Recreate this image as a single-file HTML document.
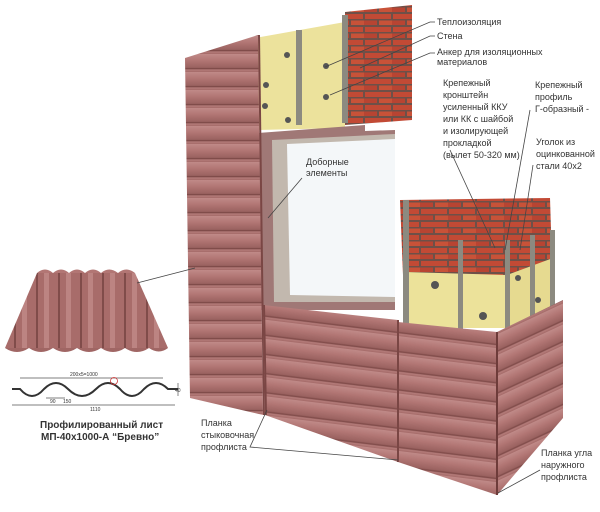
<!DOCTYPE html>
<html><head><meta charset="utf-8"><style>
html,body{margin:0;padding:0;background:#fff;}
svg{display:block;}
text{font-family:"Liberation Sans",sans-serif;fill:#333;}
</style></head><body>
<svg width="600" height="512" viewBox="0 0 600 512" xmlns="http://www.w3.org/2000/svg">
<defs>
<linearGradient id="lg" x1="0" y1="0" x2="0" y2="1">
<stop offset="0" stop-color="#c08a88"/><stop offset="0.35" stop-color="#b27674"/><stop offset="0.75" stop-color="#9a6260"/><stop offset="0.82" stop-color="#7a4644"/><stop offset="0.88" stop-color="#b47c7a"/><stop offset="1" stop-color="#a46a68"/>
</linearGradient>
<pattern id="sid" width="40" height="18" patternUnits="userSpaceOnUse">
<rect width="40" height="18" fill="url(#lg)"/>
</pattern>
<pattern id="sid2" width="40" height="19" patternUnits="userSpaceOnUse" patternTransform="rotate(7)">
<rect width="40" height="19" fill="url(#lg)"/>
</pattern>
<pattern id="sid3" width="40" height="19" patternUnits="userSpaceOnUse" patternTransform="rotate(-25)">
<rect width="40" height="19" fill="url(#lg)"/>
</pattern>
<pattern id="brick" width="28" height="13" patternUnits="userSpaceOnUse">
<rect width="28" height="13" fill="#6e5048"/>
<rect x="1" y="1" width="26" height="5" fill="#c24a35"/>
<rect x="-13" y="7.5" width="26" height="4.5" fill="#b84432"/>
<rect x="15" y="7.5" width="26" height="4.5" fill="#c85238"/>
</pattern>
<pattern id="sheet" width="22" height="10" patternUnits="userSpaceOnUse">
<rect width="22" height="10" fill="#a86c6a"/>
<rect x="0" width="5" height="10" fill="#bc8482"/>
<rect x="14" width="2" height="10" fill="#804c4a"/>
</pattern>
</defs>

<polygon points="345,12 412,5 412,120 345,125" fill="url(#brick)"/>
<polygon points="255,38 345,22 345,128 258,130" fill="#ece29c"/>
<rect x="296" y="30" width="6" height="95" fill="#8c8a80"/>
<rect x="342" y="15" width="6" height="108" fill="#8c8a80"/>
<g fill="#555">
<circle cx="266" cy="85" r="3"/><circle cx="265" cy="106" r="3"/><circle cx="287" cy="55" r="3"/><circle cx="326" cy="66" r="3"/><circle cx="326" cy="97" r="3"/><circle cx="288" cy="120" r="3"/></g>

<polygon points="258,133 365,125 365,131 395,130 395,310 258,310" fill="#a07876"/>
<polygon points="272,140 395,134 395,302 274,302" fill="#c2b8ae"/>
<polygon points="287,144 395,139 395,297 290,295" fill="#f4f7f9"/>

<polygon points="185,58 258,35 263,415 190,398" fill="url(#sid)"/>
<line x1="259" y1="35" x2="264" y2="415" stroke="#7a4644" stroke-width="2"/>

<polygon points="400,200 550,198 552,262 507,275 403,275" fill="url(#brick)"/>
<polygon points="405,272 507,275 507,328 407,328" fill="#ece29a"/>
<polygon points="507,275 553,258 555,310 507,330" fill="#e6da90"/>
<g fill="#8c8a80"><rect x="403" y="200" width="6" height="130"/><rect x="458" y="240" width="5" height="90"/><rect x="505" y="240" width="5" height="92"/><rect x="530" y="235" width="5" height="85"/><rect x="550" y="230" width="5" height="80"/></g>
<g fill="#555"><circle cx="435" cy="285" r="4"/><circle cx="483" cy="316" r="4"/><circle cx="518" cy="278" r="3"/><circle cx="538" cy="300" r="3"/></g>

<polygon points="263,305 398,320 398,462 265,415" fill="url(#sid2)"/>
<line x1="264" y1="305" x2="266" y2="415" stroke="#7a4644" stroke-width="2"/>
<polygon points="398,322 497,332 497,495 398,462" fill="url(#sid2)"/>
<line x1="398" y1="320" x2="398" y2="462" stroke="#7a4644" stroke-width="2"/>
<polygon points="497,332 563,300 563,418 497,495" fill="url(#sid3)"/>
<line x1="497" y1="332" x2="497" y2="495" stroke="#6e3c3a" stroke-width="2"/>

<polygon points="37,273 135,273 168,348 5,348" fill="url(#sheet)"/>
<path d="M37,273 q8,-7 16,0 q8,-7 16,0 q8,-7 16,0 q8,-7 16,0 q8,-7 17,0 q8,-7 17,0" fill="#b27674"/>
<path d="M5,348 q12,8 24,0 q12,8 24,0 q12,8 24,0 q12,8 24,0 q12,8 24,0 q12,8 24,0 q10,7 19,0" fill="#a06664"/>

<g stroke="#555" fill="none" stroke-width="0.7">
<line x1="20" y1="378" x2="163" y2="378"/>
<line x1="12" y1="405" x2="175" y2="405"/>
<line x1="46" y1="398" x2="65" y2="398"/>
<line x1="178" y1="383" x2="178" y2="396"/>
</g>
<path d="M12,389 l8,0 q12,14 24,0 q12,-12 24,0 q14,14 28,0 q12,-12 24,0 q12,14 24,0 q12,-12 24,0 l10,0" stroke="#333" stroke-width="2" fill="none"/>
<circle cx="114" cy="381" r="3.5" stroke="#c33" fill="none" stroke-width="0.8"/>
<text x="70" y="376" font-size="5">200x5=1000</text>
<text x="50" y="403" font-size="5">90</text>
<text x="63" y="403" font-size="5">150</text>
<text x="90" y="411" font-size="5">1110</text>
<text x="175" y="392" font-size="5">40</text>
<text x="40" y="428" font-size="10" font-weight="bold" fill="#444">Профилированный лист</text>
<text x="41" y="440" font-size="10" font-weight="bold" fill="#444">МП-40х1000-А “Бревно”</text>

<g stroke="#444" stroke-width="0.8" fill="none">
<polyline points="325,67 430,22 435,22"/>
<polyline points="360,68 430,36 435,36"/>
<polyline points="330,95 430,53 435,53"/>
<line x1="137" y1="283" x2="195" y2="268"/>
<line x1="268" y1="218" x2="302" y2="178"/>
<line x1="450" y1="150" x2="495" y2="248"/>
<line x1="530" y1="110" x2="505" y2="250"/>
<line x1="533" y1="165" x2="520" y2="250"/>
<polyline points="267,410 250,447 398,460"/>
<line x1="540" y1="470" x2="498" y2="493"/>
</g>

<g font-size="9">
<text x="437" y="25">Теплоизоляция</text>
<text x="437" y="39">Стена</text>
<text x="437" y="55">Анкер для изоляционных</text>
<text x="437" y="65">материалов</text>
<text x="443" y="86">Крепежный</text>
<text x="443" y="98">кронштейн</text>
<text x="443" y="110">усиленный ККУ</text>
<text x="443" y="122">или КК с шайбой</text>
<text x="443" y="134">и изолирующей</text>
<text x="443" y="146">прокладкой</text>
<text x="443" y="158">(вылет 50-320 мм)</text>
<text x="535" y="88">Крепежный</text>
<text x="535" y="100">профиль</text>
<text x="535" y="112">Г-образный -</text>
<text x="536" y="145">Уголок из</text>
<text x="536" y="157">оцинкованной</text>
<text x="536" y="169">стали 40х2</text>
<text x="306" y="165">Доборные</text>
<text x="306" y="176">элементы</text>
<text x="201" y="426">Планка</text>
<text x="201" y="438">стыковочная</text>
<text x="201" y="450">профлиста</text>
<text x="541" y="456">Планка угла</text>
<text x="541" y="468">наружного</text>
<text x="541" y="480">профлиста</text>
</g>
</svg>
</body></html>
